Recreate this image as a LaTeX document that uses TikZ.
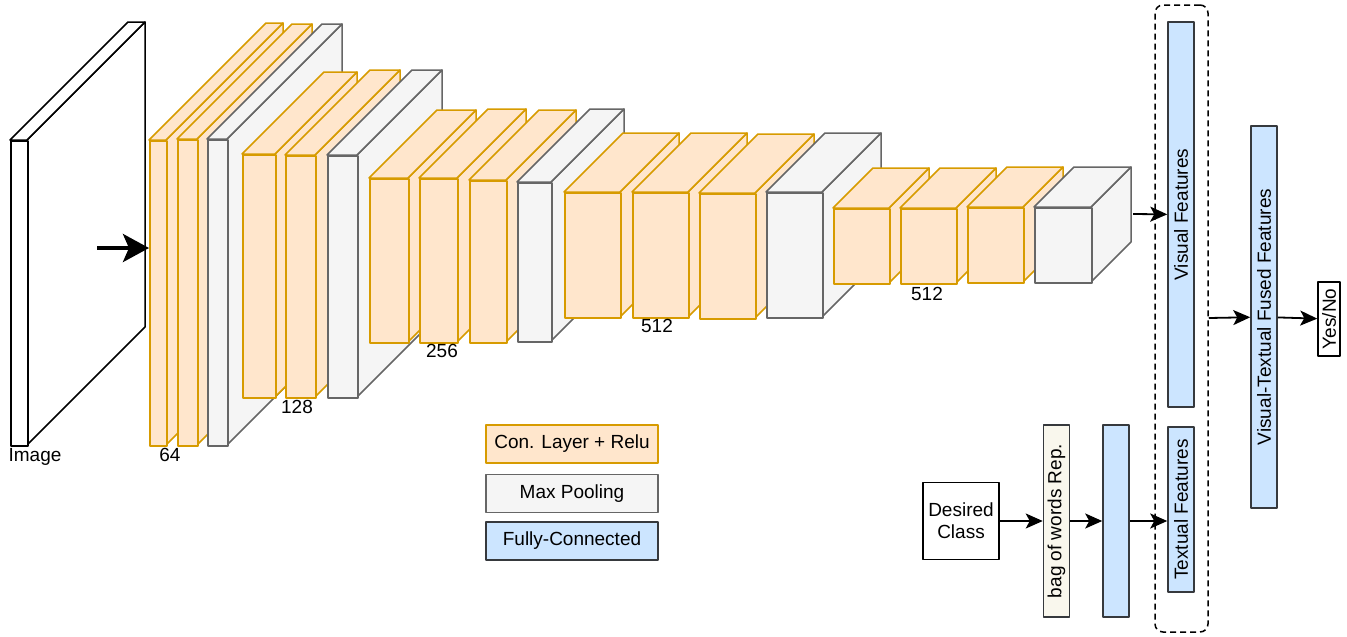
\documentclass[tikz,border=0pt]{standalone}
\usepackage{fontspec}
\setmainfont{Liberation Sans}
\usetikzlibrary{arrows.meta,positioning}
\definecolor{convfill}{HTML}{FFE6CC}
\definecolor{convline}{HTML}{D79B00}
\definecolor{poolfill}{HTML}{F5F5F5}
\definecolor{poolline}{HTML}{666666}
\definecolor{fcfill}{HTML}{CCE5FF}
\definecolor{fcline}{HTML}{36393D}
\definecolor{bowfill}{HTML}{F9F7ED}

\begin{document}
\begin{tikzpicture}[x=1pt,y=-1pt,line width=1.5pt,line join=round,
    font=\fontsize{19}{22}\selectfont,
    arr/.style={line width=1.8pt,-{Stealth[length=17pt,width=15pt,inset=4pt]}},
    image layer/.style={draw=black,fill=white},
    conv layer/.style={draw=convline,fill=convfill},
    pool layer/.style={draw=poolline,fill=poolfill},
    fc layer/.style={draw=fcline,fill=fcfill,inner sep=0pt,rotate=90,minimum height=26pt},
    legend node/.style={draw,inner sep=0pt,minimum width=172pt,minimum height=38pt}]
    \useasboundingbox (0,0) rectangle (1347,637);

    % feature maps, front face named
    \foreach \n/\s/\xa/\ya/\xb/\yb/\d in {
        img/image/10/140/27/445/118,
        c1/conv/149/140/166/445/117, c2/conv/177/139/197/445/115, p1/pool/207/139/227/445/115,
        c3/conv/242/154/275/397/82, c4/conv/285/155/315/397/85, p2/pool/327/155/357/397/85,
        c5/conv/369/178/408/342/68, c6/conv/419/178/457/342/69, c7/conv/469/180/506/342/70, p3/pool/517/182/551/341/73,
        c8/conv/564/192/620/317/59, c9/conv/632/192/688/317/59, c10/conv/699/193/755/318/59, p4/pool/766/192/822/317/59,
        c11/conv/833/208/889/283/40, c12/conv/900/208/956/283/40, c13/conv/967/207/1023/282/40, p5/pool/1034/207/1091/282/40}{
        \filldraw[\s\space layer] (\xb,\ya) -- ++(\d,-\d) -- ++(0,\yb-\ya) -- (\xb,\yb) -- cycle;
        \filldraw[\s\space layer] (\xa,\ya) -- ++(\d,-\d) -- ++(\xb-\xa,0) -- (\xb,\ya) -- cycle;
        \node[\s\space layer,inner sep=0pt,anchor=north west,minimum width=\xb-\xa,minimum height=\yb-\ya] (\n) at (\xa,\ya) {};
    }

    \node (l1) at (35,457) {Image};
    \node (l2) at (170,455) {64};
    \node (l3) at (297,407) {128};
    \node (l4) at (442,351) {256};
    \node (l5) at (657,326) {512};
    \node (l6) at (927,294) {512};

    % legend
    \node[legend node,draw=convline,fill=convfill] (leg1) at (572,444) {Con. Layer + Relu};
    \node[legend node,draw=poolline,fill=poolfill] (leg2) [below=10pt of leg1] {Max Pooling};
    \node[legend node,draw=fcline,fill=fcfill] (leg3) [below=8pt of leg2] {Fully-Connected};

    % text branch
    \node[fc layer,fill=bowfill,minimum width=192pt] (bow) at (1056.5,521) {bag of words Rep.};
    \node[draw,align=center,inner sep=0pt,minimum width=76pt,minimum height=77pt] (cls) [left=43pt of bow.north] {Desired\\Class};
    \node[fc layer,minimum width=192pt] (fc) [right=32pt of bow.south,anchor=north] {};

    % fusion
    \node[draw,dashed,dash pattern=on 6pt off 4pt,rounded corners=8pt,minimum width=53pt,minimum height=627pt] (grp) at (1181.5,318.5) {};
    \node[fc layer,minimum width=385pt] (vis) at (1181,214.5) {Visual Features};
    \node[fc layer,minimum width=165pt] (txt) at (1181,509.5) {Textual Features};
    \node[fc layer,minimum width=382pt] (fused) at (1264,317) {Visual-Textual Fused Features};
    \node[draw,rotate=90,inner sep=0pt,minimum width=74pt,minimum height=22pt] (yes) at (1329,319) {Yes/No};

    \coordinate (in) at (97,248);
    \coordinate (out) at (1133,214);
    \draw[line width=4pt,-{Stealth[length=26pt,width=28pt,inset=6pt]}] (in) -- (in -| c1.west);

    \path[arr]
        (out) edge (vis)
        (cls) edge (bow)
        (bow) edge (fc)
        (fc.south) edge (fc.south -| txt.north)
        (grp) edge (fused)
        (fused) edge (yes)
        ;
\end{tikzpicture}
\end{document}
